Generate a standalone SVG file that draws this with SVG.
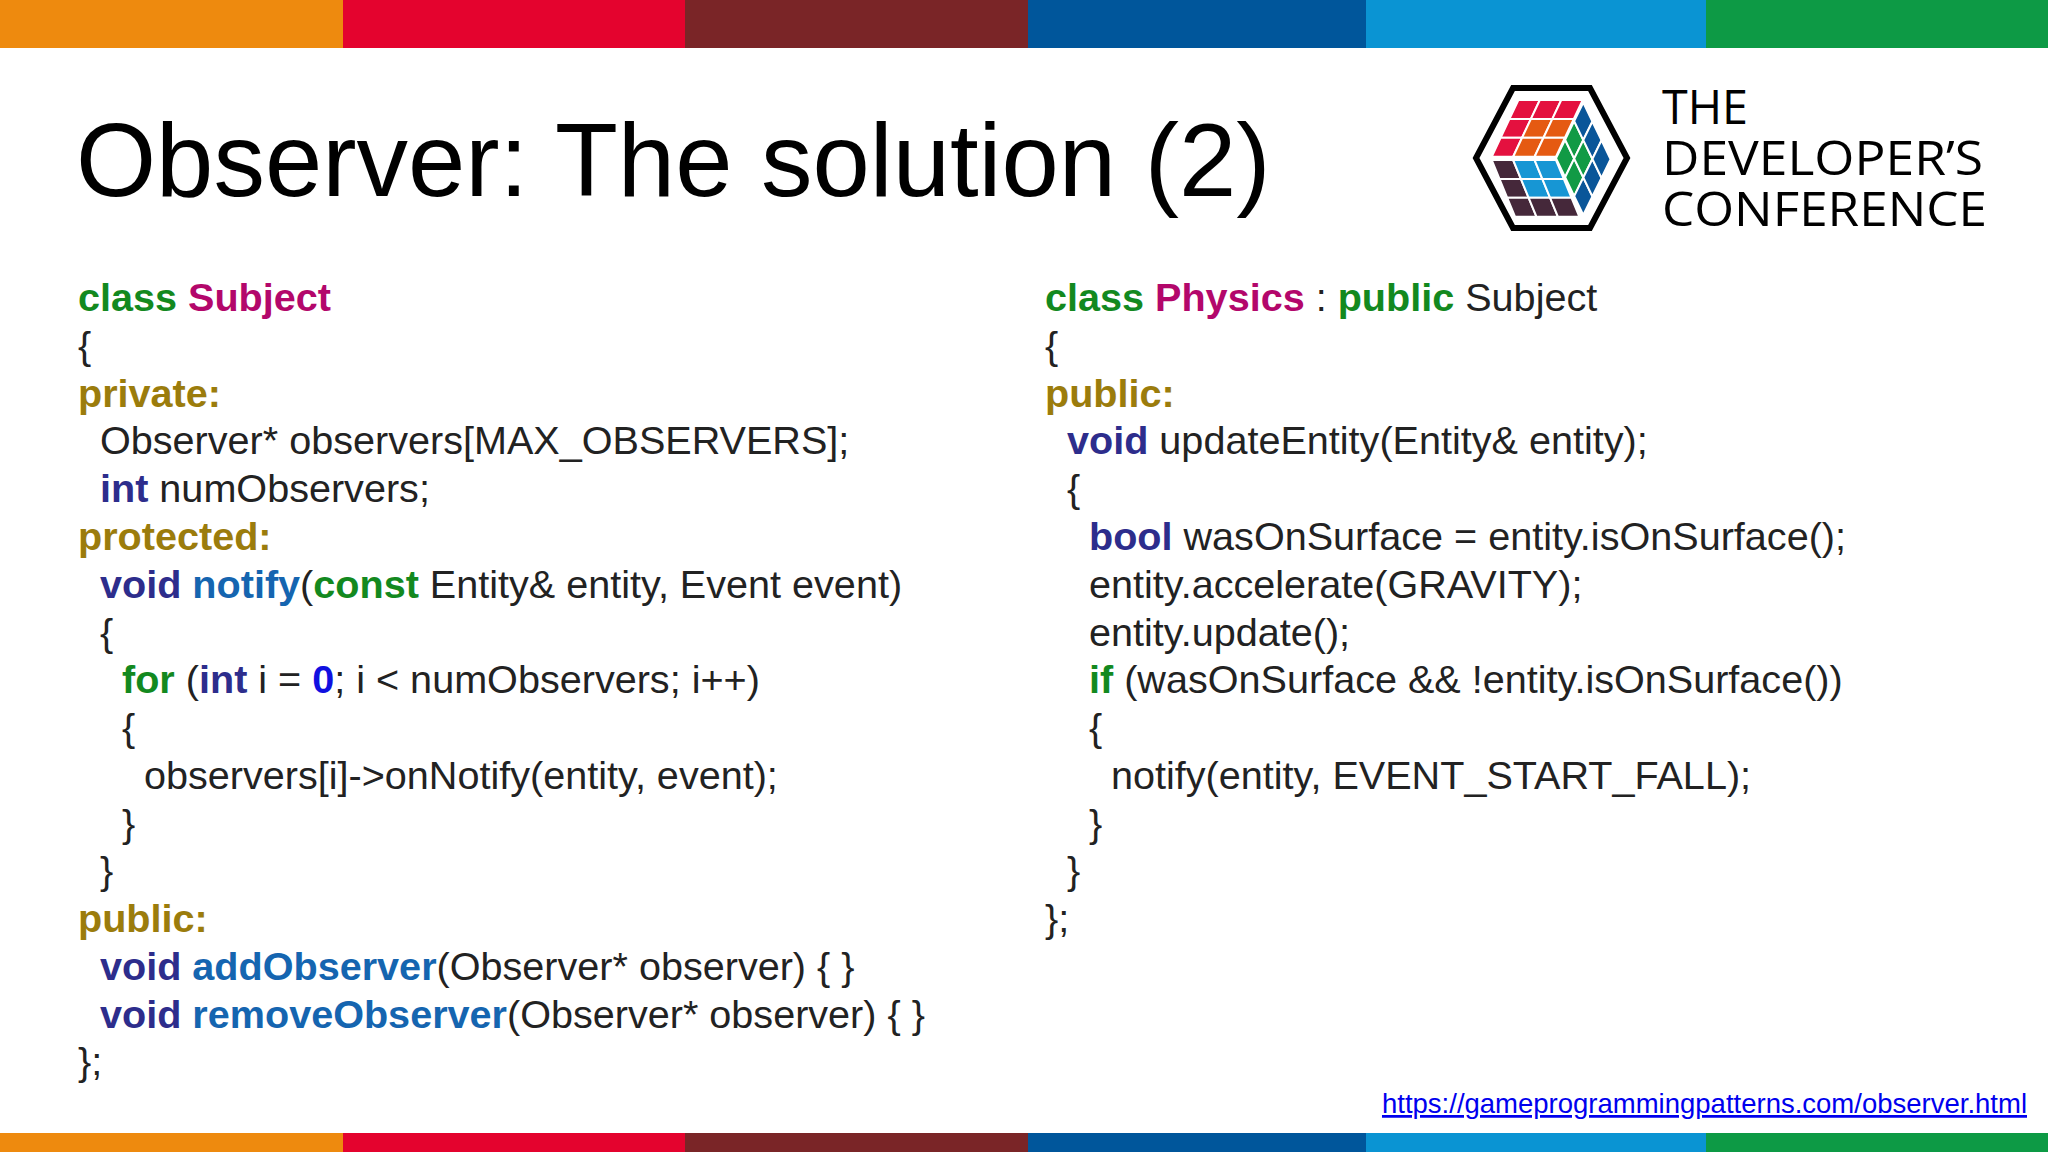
<svg xmlns="http://www.w3.org/2000/svg" width="2048" height="1152" viewBox="0 0 2048 1152">
<style>
text{font-family:"Liberation Sans",Arial,sans-serif}
.c{font-size:39.6px;fill:#222}
.g{fill:#13891f;font-weight:bold}
.m{fill:#b3076b;font-weight:bold}
.o{fill:#9b7c0c;font-weight:bold}
.d{fill:#2d2d8c;font-weight:bold}
.b{fill:#1565b0;font-weight:bold}
.z{fill:#1010e0;font-weight:bold}
.cell{stroke:#fff;stroke-width:2;vector-effect:non-scaling-stroke}
.lg{font-family:"Open Sans",sans-serif;font-size:47px;fill:#000}
</style>
<rect width="2048" height="1152" fill="#fff"/>
<g id="bars">
<rect x="0" y="0" width="343" height="48" fill="#ee8a0e"/><rect x="343" y="0" width="342" height="48" fill="#e4032e"/><rect x="685" y="0" width="343" height="48" fill="#7a2527"/><rect x="1028" y="0" width="338" height="48" fill="#00569b"/><rect x="1366" y="0" width="340" height="48" fill="#0a94d3"/><rect x="1706" y="0" width="342" height="48" fill="#0d9a45"/>
<rect x="0" y="1133" width="343" height="19" fill="#ee8a0e"/><rect x="343" y="1133" width="342" height="19" fill="#e4032e"/><rect x="685" y="1133" width="343" height="19" fill="#7a2527"/><rect x="1028" y="1133" width="338" height="19" fill="#00569b"/><rect x="1366" y="1133" width="340" height="19" fill="#0a94d3"/><rect x="1706" y="1133" width="342" height="19" fill="#0d9a45"/>
</g>
<g id="title"><text x="76" y="196" font-size="103" fill="#000">Observer: The solution (2)</text></g>
<g id="logo">
<polygon points="1513,88 1590,88 1627,158 1590,228 1513,228 1476,158" fill="#fff" stroke="#000" stroke-width="6"/>
<g transform="matrix(21.43,0,8.9,-18.9,1491.7,156.7)">
<rect class="cell" x="0" y="2" width="1" height="1" fill="#e4113f"/><rect class="cell" x="1" y="2" width="1" height="1" fill="#e4113f"/><rect class="cell" x="2" y="2" width="1" height="1" fill="#e4113f"/>
<rect class="cell" x="0" y="1" width="1" height="1" fill="#e4113f"/><rect class="cell" x="1" y="1" width="1" height="1" fill="#e55a12"/><rect class="cell" x="2" y="1" width="1" height="1" fill="#e55a12"/>
<rect class="cell" x="0" y="0" width="1" height="1" fill="#e4113f"/><rect class="cell" x="1" y="0" width="1" height="1" fill="#e55a12"/><rect class="cell" x="2" y="0" width="1" height="1" fill="#e55a12"/>
</g>
<g transform="matrix(21.43,0,7.77,18.9,1491.7,160)">
<rect class="cell" x="0" y="0" width="1" height="1" fill="#45283a"/><rect class="cell" x="1" y="0" width="1" height="1" fill="#1796d4"/><rect class="cell" x="2" y="0" width="1" height="1" fill="#1796d4"/>
<rect class="cell" x="0" y="1" width="1" height="1" fill="#45283a"/><rect class="cell" x="1" y="1" width="1" height="1" fill="#1796d4"/><rect class="cell" x="2" y="1" width="1" height="1" fill="#1796d4"/>
<rect class="cell" x="0" y="2" width="1" height="1" fill="#45283a"/><rect class="cell" x="1" y="2" width="1" height="1" fill="#45283a"/><rect class="cell" x="2" y="2" width="1" height="1" fill="#45283a"/>
</g>
<g transform="matrix(9.1,-18.57,9.1,18.9,1556,158.3)">
<rect class="cell" x="0" y="0" width="1" height="1" fill="#119a45"/><rect class="cell" x="1" y="0" width="1" height="1" fill="#119a45"/><rect class="cell" x="2" y="0" width="1" height="1" fill="#0a5699"/>
<rect class="cell" x="0" y="1" width="1" height="1" fill="#119a45"/><rect class="cell" x="1" y="1" width="1" height="1" fill="#119a45"/><rect class="cell" x="2" y="1" width="1" height="1" fill="#0a5699"/>
<rect class="cell" x="0" y="2" width="1" height="1" fill="#0a5699"/><rect class="cell" x="1" y="2" width="1" height="1" fill="#0a5699"/><rect class="cell" x="2" y="2" width="1" height="1" fill="#0a5699"/>
</g>
<text class="lg" x="1662" y="124" textLength="86" lengthAdjust="spacingAndGlyphs">THE</text>
<text class="lg" x="1662" y="175" textLength="321" lengthAdjust="spacingAndGlyphs">DEVELOPER’S</text>
<text class="lg" x="1662" y="226" textLength="325" lengthAdjust="spacingAndGlyphs">CONFERENCE</text>
</g>
<g id="code-left" class="c">
<text x="78" y="311"><tspan class="g">class</tspan> <tspan class="m">Subject</tspan></text>
<text x="78" y="359">{</text>
<text x="78" y="407"><tspan class="o">private:</tspan></text>
<text x="100" y="454">Observer* observers[MAX_OBSERVERS];</text>
<text x="100" y="502"><tspan class="d">int</tspan> numObservers;</text>
<text x="78" y="550"><tspan class="o">protected:</tspan></text>
<text x="100" y="598"><tspan class="d">void</tspan> <tspan class="b">notify</tspan>(<tspan class="g">const</tspan> Entity&amp; entity, Event event)</text>
<text x="100" y="646">{</text>
<text x="122" y="693"><tspan class="g">for</tspan> (<tspan class="d">int</tspan> i = <tspan class="z">0</tspan>; i &lt; numObservers; i++)</text>
<text x="122" y="741">{</text>
<text x="144" y="789">observers[i]-&gt;onNotify(entity, event);</text>
<text x="122" y="837">}</text>
<text x="100" y="884">}</text>
<text x="78" y="932"><tspan class="o">public:</tspan></text>
<text x="100" y="980"><tspan class="d">void</tspan> <tspan class="b">addObserver</tspan>(Observer* observer) { }</text>
<text x="100" y="1028"><tspan class="d">void</tspan> <tspan class="b">removeObserver</tspan>(Observer* observer) { }</text>
<text x="78" y="1075">};</text>
</g>
<g id="code-right" class="c">
<text x="1045" y="311"><tspan class="g">class</tspan> <tspan class="m">Physics</tspan> : <tspan class="g">public</tspan> Subject</text>
<text x="1045" y="359">{</text>
<text x="1045" y="407"><tspan class="o">public:</tspan></text>
<text x="1067" y="454"><tspan class="d">void</tspan> updateEntity(Entity&amp; entity);</text>
<text x="1067" y="502">{</text>
<text x="1089" y="550"><tspan class="d">bool</tspan> wasOnSurface = entity.isOnSurface();</text>
<text x="1089" y="598">entity.accelerate(GRAVITY);</text>
<text x="1089" y="646">entity.update();</text>
<text x="1089" y="693"><tspan class="g">if</tspan> (wasOnSurface &amp;&amp; !entity.isOnSurface())</text>
<text x="1089" y="741">{</text>
<text x="1111" y="789">notify(entity, EVENT_START_FALL);</text>
<text x="1089" y="837">}</text>
<text x="1067" y="884">}</text>
<text x="1045" y="932">};</text>
</g>
<g id="link"><text x="2027" y="1113" text-anchor="end" font-size="27.5" fill="#0000ee" text-decoration="underline">https://gameprogrammingpatterns.com/observer.html</text></g>
</svg>
